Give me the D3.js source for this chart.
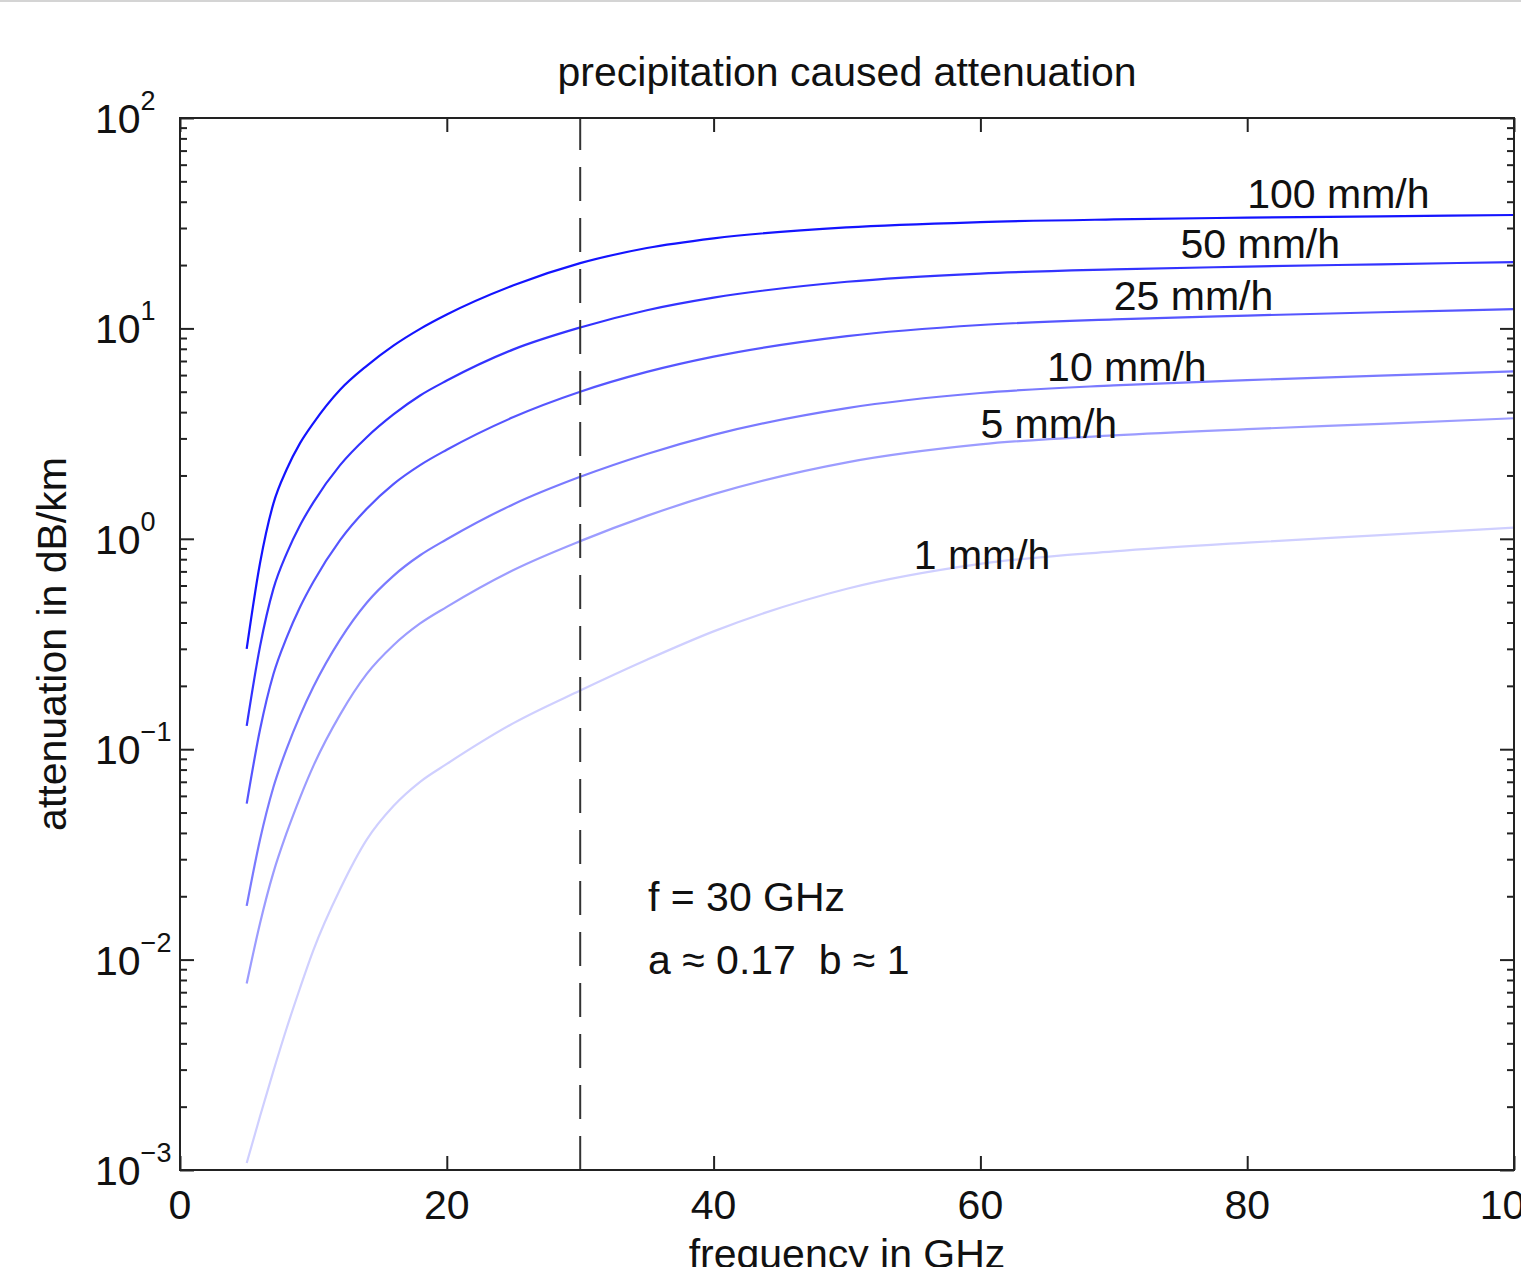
<!DOCTYPE html>
<html>
<head>
<meta charset="utf-8">
<script src="https://cdn.jsdelivr.net/npm/d3@7"></script>
<style>
  body { margin: 0; background: #fff; }
  svg { display: block; font-family: "Liberation Sans", Arial, Helvetica, sans-serif; }
</style>
</head>
<body>
<script>
// frequency grid (GHz)
var freqs = [5, 6, 7, 8, 9, 10, 12, 14, 16, 18, 20, 25, 30, 35, 40, 50, 60, 70, 80, 90, 100];

// specific attenuation in dB/km, one array per rain rate
var att100 = [0.30, 0.767, 1.47, 2.14, 2.85, 3.55, 5.11, 6.64, 8.28, 9.95, 11.64, 16.03, 20.42, 24.1, 26.8, 30.2, 32.0, 32.96, 33.6, 34.1, 34.6];
var att50  = [0.129, 0.308, 0.578, 0.853, 1.16, 1.49, 2.24, 3.04, 3.9, 4.8, 5.65, 7.95, 10.1, 12.2, 14.0, 16.66, 18.23, 19.08, 19.66, 20.17, 20.67];
var att25  = [0.0551, 0.124, 0.227, 0.34, 0.474, 0.625, 0.986, 1.39, 1.82, 2.24, 2.65, 3.79, 5.0, 6.21, 7.34, 9.19, 10.38, 11.04, 11.51, 11.93, 12.35];
var att10  = [0.018, 0.0372, 0.0659, 0.1007, 0.1445, 0.198, 0.332, 0.497, 0.667, 0.835, 0.995, 1.46, 1.97, 2.53, 3.12, 4.18, 4.93, 5.36, 5.68, 5.96, 6.25];
var att5   = [0.0077, 0.0149, 0.0259, 0.0401, 0.0589, 0.0833, 0.146, 0.228, 0.312, 0.396, 0.475, 0.711, 0.975, 1.285, 1.63, 2.31, 2.81, 3.1, 3.32, 3.52, 3.74];
var att1   = [0.00108, 0.0018, 0.00295, 0.00473, 0.00733, 0.0111, 0.0216, 0.0372, 0.0537, 0.070, 0.0851, 0.133, 0.190, 0.266, 0.363, 0.579, 0.760, 0.871, 0.959, 1.04, 1.13];

var rainLabels = ['100 mm/h', '50 mm/h', '25 mm/h', '10 mm/h', '5 mm/h', '1 mm/h'];
// where each curve label sits, in data units
var labelFreq = [80, 75, 70, 65, 60, 55];
var labelVal  = [37.4, 21.6, 12.2, 5.62, 3.01, 0.718];

var xTicks = [0, 20, 40, 60, 80, 100];
var yExps = [-3, -2, -1, 0, 1, 2];
var markFreq = 30;

var series = [att100, att50, att25, att10, att5, att1];
var colors = ['#1414ff', '#3333ff', '#5656ff', '#7a7aff', '#9c9cff', '#cfcfff'];

var width = 1521, height = 1267;
var plotL = 180, plotR = 1514, plotT = 118, plotB = 1170;
var fs = 41;

var x = d3.scaleLinear().domain([0, 100]).range([plotL, plotR]);
var y = d3.scaleLog().domain([1e-3, 1e2]).range([plotB, plotT]);

var svg = d3.select('body').append('svg')
    .attr('width', width)
    .attr('height', height);

// thin grey strip along the top edge
svg.append('rect')
  .attr('x', 0).attr('y', 0)
  .attr('width', width).attr('height', 2)
  .attr('fill', '#d4d4d4');

// curves
var line = d3.line()
    .x(function(d, i) { return x(freqs[i]); })
    .y(function(d) { return y(d); })
    .curve(d3.curveMonotoneX);

svg.append('g').selectAll('path')
  .data(series)
  .enter().append('path')
  .attr('d', line)
  .attr('fill', 'none')
  .attr('stroke', function(d, i) { return colors[i]; })
  .attr('stroke-width', 2.2);

// dashed marker at 30 GHz
svg.append('line')
  .attr('x1', x(markFreq)).attr('x2', x(markFreq))
  .attr('y1', y(1e-3)).attr('y2', y(1e2))
  .attr('stroke', '#333')
  .attr('stroke-width', 2)
  .attr('stroke-dasharray', '34,17');

// ticks
var majorY = yExps.map(function(e) { return Math.pow(10, e); });
var minorY = [];
yExps.slice(0, -1).forEach(function(e) {
  for (var k = 2; k < 10; k++) minorY.push(k * Math.pow(10, e));
});

function styleAxis(g) {
  g.select('.domain').remove();
  g.selectAll('line').attr('stroke', '#222').attr('stroke-width', 2);
}

svg.append('g').attr('transform', 'translate(' + plotL + ',0)')
  .call(d3.axisLeft(y).tickValues(majorY).tickSize(-14).tickFormat('')).call(styleAxis);
svg.append('g').attr('transform', 'translate(' + plotL + ',0)')
  .call(d3.axisLeft(y).tickValues(minorY).tickSize(-7).tickFormat('')).call(styleAxis);
svg.append('g').attr('transform', 'translate(' + plotR + ',0)')
  .call(d3.axisRight(y).tickValues(majorY).tickSize(-14).tickFormat('')).call(styleAxis);
svg.append('g').attr('transform', 'translate(' + plotR + ',0)')
  .call(d3.axisRight(y).tickValues(minorY).tickSize(-7).tickFormat('')).call(styleAxis);
svg.append('g').attr('transform', 'translate(0,' + plotB + ')')
  .call(d3.axisBottom(x).tickValues(xTicks).tickSize(-14).tickFormat('')).call(styleAxis);
svg.append('g').attr('transform', 'translate(0,' + plotT + ')')
  .call(d3.axisTop(x).tickValues(xTicks).tickSize(-14).tickFormat('')).call(styleAxis);

// frame
svg.append('rect')
  .attr('x', plotL).attr('y', plotT)
  .attr('width', plotR - plotL).attr('height', plotB - plotT)
  .attr('fill', 'none')
  .attr('stroke', '#222')
  .attr('stroke-width', 2);

// y tick labels 10^n
var ylab = svg.append('g').selectAll('text')
  .data(yExps)
  .enter().append('text')
  .attr('x', 95)
  .attr('y', function(d) { return y(Math.pow(10, d)) + 15; })
  .attr('font-size', fs)
  .attr('fill', '#111');
ylab.append('tspan').text('10');
ylab.append('tspan')
  .attr('dy', -23)
  .attr('font-size', 27)
  .text(function(d) { return d < 0 ? '\u2212' + (-d) : String(d); });

// x tick labels
svg.append('g').selectAll('text')
  .data(xTicks)
  .enter().append('text')
  .attr('x', function(d) { return x(d); })
  .attr('y', 1219)
  .attr('text-anchor', 'middle')
  .attr('font-size', fs)
  .attr('fill', '#111')
  .text(function(d) { return d; });

// curve labels
svg.append('g').selectAll('text')
  .data(rainLabels)
  .enter().append('text')
  .attr('x', function(d, i) { return x(labelFreq[i]); })
  .attr('y', function(d, i) { return y(labelVal[i]); })
  .attr('font-size', fs)
  .attr('fill', '#111')
  .text(function(d) { return d; });

// annotation
svg.append('text')
  .attr('x', 648).attr('y', 911)
  .attr('font-size', fs).attr('fill', '#111')
  .text('f = 30 GHz');
svg.append('text')
  .attr('x', 648).attr('y', 974)
  .attr('font-size', fs).attr('fill', '#111')
  .style('white-space', 'pre')
  .text('a \u2248 0.17  b \u2248 1');

// titles
svg.append('text')
  .attr('x', (plotL + plotR) / 2).attr('y', 86)
  .attr('text-anchor', 'middle')
  .attr('font-size', fs).attr('fill', '#111')
  .text('precipitation caused attenuation');

svg.append('text')
  .attr('x', (plotL + plotR) / 2).attr('y', 1268)
  .attr('text-anchor', 'middle')
  .attr('font-size', fs).attr('fill', '#111')
  .text('frequency in GHz');

svg.append('text')
  .attr('transform', 'translate(66,' + (plotT + plotB) / 2 + ') rotate(-90)')
  .attr('text-anchor', 'middle')
  .attr('font-size', fs).attr('fill', '#111')
  .text('attenuation in dB/km');
</script>
</body>
</html>
